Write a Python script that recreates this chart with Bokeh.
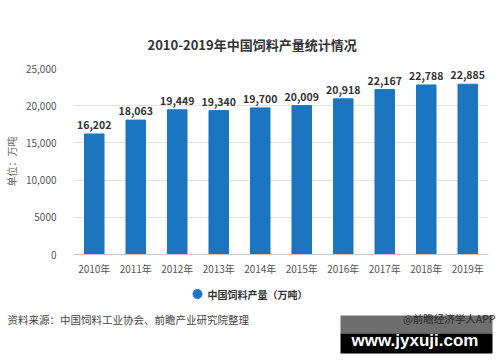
from bokeh.plotting import figure
from bokeh.models import (ColumnDataSource, Label, Range1d, FixedTicker, LabelSet)
from bokeh.layouts import column
from bokeh.core.properties import value
from bokeh.embed import file_html
from bokeh.resources import INLINE

years = ["2010年", "2011年", "2012年", "2013年", "2014年", "2015年", "2016年", "2017年", "2018年", "2019年"]
output = [16202, 18063, 19449, 19340, 19700, 20009, 20918, 22167, 22788, 22885]
y_ticks = [0, 5000, 10000, 15000, 20000, 25000]
y_tick_labels = ["0", "5000", "10,000", "15,000", "20,000", "25,000"]
title_text = "2010-2019年中国饲料产量统计情况"
series_name = "中国饲料产量（万吨）"
y_label = "单位：万吨"
source_text = "资料来源：中国饲料工业协会、前瞻产业研究院整理"
credit_text = "@前瞻经济学人APP"
stamp_text = "www.jyxuji.com"

FONT = "Noto Sans CJK SC"
BLUE = "#1b75c0"

src = ColumnDataSource(dict(year=years, val=output, lab=[f"{v:,}" for v in output]))

W = 496
MH = 282
# ---------- main chart ----------
p = figure(width=W, height=MH, x_range=years, y_range=Range1d(0, 25000),
           output_backend="svg", toolbar_location=None, frame_align=False,
           min_border_left=68, min_border_right=8, min_border_top=68, min_border_bottom=28)
p.outline_line_color = None

p.title.text = title_text
p.title.align = "left"
p.title.offset = 74
p.title.standoff = 30
p.title.text_font = FONT
p.title.text_font_size = "13px"
p.title.text_font_style = "bold"
p.title.text_color = "#333333"

p.vbar(x="year", top="val", width=0.47, source=src, color=BLUE)

p.add_layout(LabelSet(x="year", y="val", text="lab", source=src, text_align="center",
                      text_baseline="bottom", y_offset=5, text_font=value(FONT),
                      text_font_size="10.5px", text_font_style="bold", text_color="#333333"))

p.yaxis.ticker = FixedTicker(ticks=y_ticks)
p.yaxis.major_label_overrides = {t: l for t, l in zip(y_ticks, y_tick_labels)}
p.yaxis.axis_line_color = None
p.yaxis.major_tick_line_color = None
p.yaxis.minor_tick_line_color = None
p.yaxis.major_label_text_font = FONT
p.yaxis.major_label_text_font_size = "10px"
p.yaxis.major_label_text_color = "#555555"
p.yaxis.major_label_standoff = 11
p.yaxis.axis_label = y_label
p.yaxis.axis_label_text_font = FONT
p.yaxis.axis_label_text_font_size = "10px"
p.yaxis.axis_label_text_font_style = "normal"
p.yaxis.axis_label_text_color = "#666666"
p.yaxis.axis_label_standoff = 4

p.xaxis.axis_line_color = "#c8c8c8"
p.xaxis.major_tick_line_color = None
p.xaxis.major_label_text_font = FONT
p.xaxis.major_label_text_font_size = "10px"
p.xaxis.major_label_text_color = "#555555"
p.xaxis.major_label_standoff = 0

p.xgrid.grid_line_color = None
p.ygrid.grid_line_color = "#e3e3e3"

# ---------- footer: legend, source, credit ----------
FH = 76
f = figure(width=W, height=FH, x_range=Range1d(0, W), y_range=Range1d(FH, 0),
           output_backend="svg", toolbar_location=None, frame_align=False,
           min_border_left=0, min_border_right=0, min_border_top=0, min_border_bottom=0)
f.axis.visible = False
f.grid.visible = False
f.outline_line_color = None

# legend entry
f.scatter(x=[197], y=[11.5], marker="circle", size=9, color=BLUE)
f.add_layout(Label(x=207, y=11.5, text=series_name, text_baseline="middle", text_font=FONT,
                   text_font_size="10px", text_font_style="bold", text_color="#333333"))

f.add_layout(Label(x=7, y=37, text=source_text, text_baseline="middle", text_font=FONT,
                   text_font_size="10.5px", text_color="#444444"))
f.quad(left=[340], right=[492], top=[33], bottom=[51], color="#6e6e6e", line_color=None)
f.quad(left=[340], right=[492], top=[51], bottom=[71], color="black", line_color=None)
f.add_layout(Label(x=495, y=36, text=credit_text, text_align="right", text_baseline="middle",
                   text_font=FONT, text_font_size="10.5px", text_color="#2a2a2a"))
f.add_layout(Label(x=414.5, y=58, text=stamp_text, text_align="center", text_baseline="middle",
                   text_font="Liberation Sans", text_font_size="17px", text_font_style="bold",
                   text_color="white"))

layout = column(p, f, spacing=0)
open("out.html", "w").write(file_html(layout, INLINE))
